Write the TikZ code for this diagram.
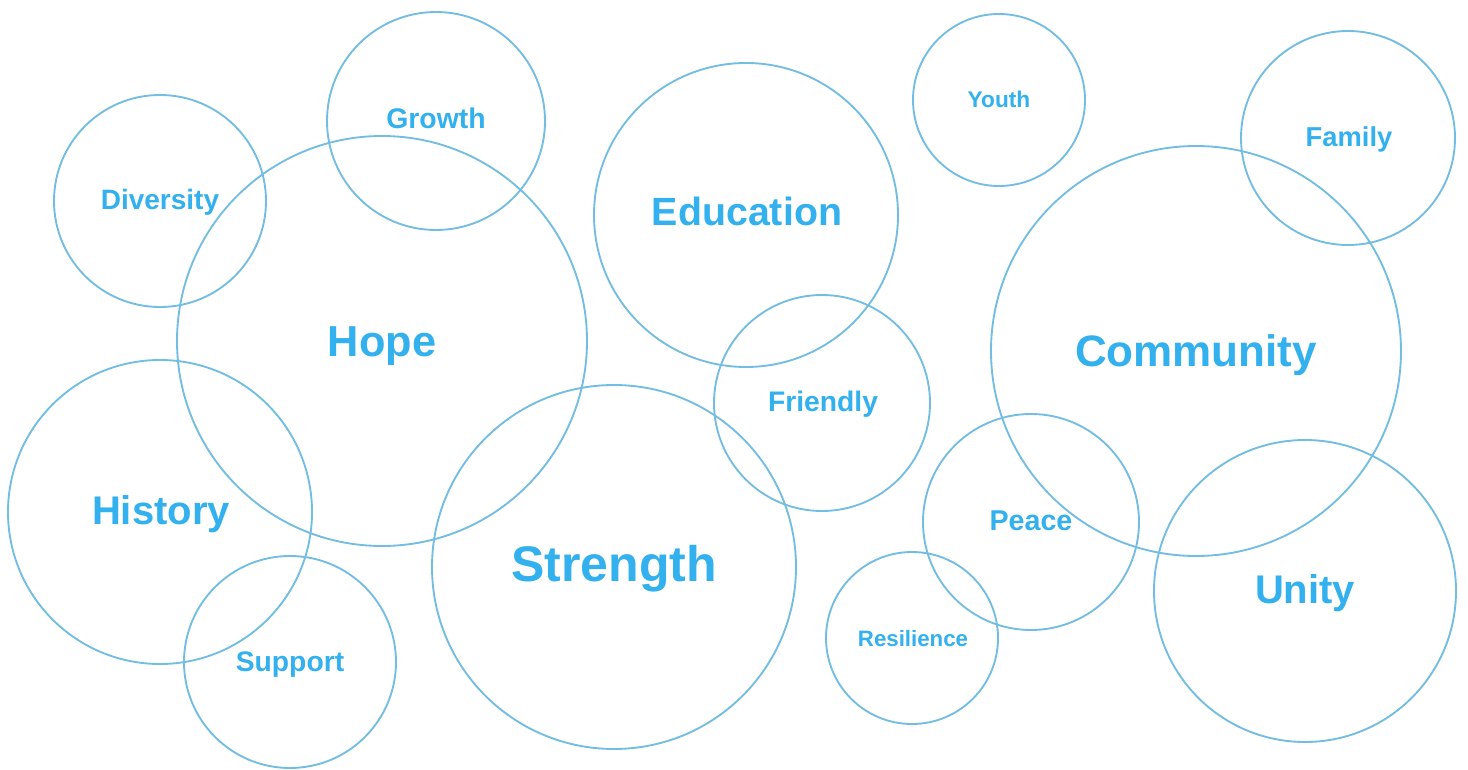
\documentclass[tikz,border=0pt]{standalone}
\usepackage{fontspec}
\setmainfont{Liberation Sans}
\definecolor{ring}{HTML}{74BDE2}
\definecolor{word}{HTML}{33B0EE}
\tikzset{
  bubble/.style={draw=ring, line width=1.4pt},
  lbl/.style={text=word, font=\bfseries, anchor=base, inner sep=0pt}
}
\newcommand{\fsz}[1]{\fontsize{#1}{#1}\selectfont}
\begin{document}
\begin{tikzpicture}[x=0.75pt,y=-0.75pt]
\useasboundingbox (0,0) rectangle (1468,770);
\fill[white] (0,0) rectangle (1468,770);
% circles
\draw[bubble] (160,201) circle[radius=106];
\draw[bubble] (436,121) circle[radius=109];
\draw[bubble] (382,341) circle[radius=205];
\draw[bubble] (746,215) circle[radius=152];
\draw[bubble] (999,100) circle[radius=86];
\draw[bubble] (1348,138) circle[radius=107];
\draw[bubble] (1196,351) circle[radius=205];
\draw[bubble] (822,403) circle[radius=108];
\draw[bubble] (160,512) circle[radius=152];
\draw[bubble] (290,662) circle[radius=106];
\draw[bubble] (614,567) circle[radius=182];
\draw[bubble] (1031,522) circle[radius=108];
\draw[bubble] (912,638) circle[radius=86];
\draw[bubble] (1305,591) circle[radius=151];
% labels (base line = cap centre + 0.358 * size)
\node[lbl, font=\bfseries\fsz{32.5}] (hope) at (382,356.5) {Hope};
\node[lbl, font=\bfseries\fsz{37.5}] (strength) at (614,581.5) {Strength};
\node[lbl, font=\bfseries\fsz{33}] (community) at (1196,366.5) {Community};
\node[lbl, font=\bfseries\fsz{29.5}] (education) at (747,226) {Education};
\node[lbl, font=\bfseries\fsz{30}] (history) at (161,524.5) {History};
\node[lbl, font=\bfseries\fsz{30}] (unity) at (1305,603.5) {Unity};
\node[lbl, font=\bfseries\fsz{21}] (diversity) at (160,210) {Diversity};
\node[lbl, font=\bfseries\fsz{21.3}] (growth) at (436,129) {Growth};
\node[lbl, font=\bfseries\fsz{17}] (youth) at (999,108) {Youth};
\node[lbl, font=\bfseries\fsz{20.5}] (family) at (1349,146.5) {Family};
\node[lbl, font=\bfseries\fsz{21.2}] (friendly) at (823,411) {Friendly};
\node[lbl, font=\bfseries\fsz{21.5}] (peace) at (1031,530) {Peace};
\node[lbl, font=\bfseries\fsz{21.2}] (support) at (290,671) {Support};
\node[lbl, font=\bfseries\fsz{16.7}] (resilience) at (913,646) {Resilience};
\end{tikzpicture}
\end{document}
